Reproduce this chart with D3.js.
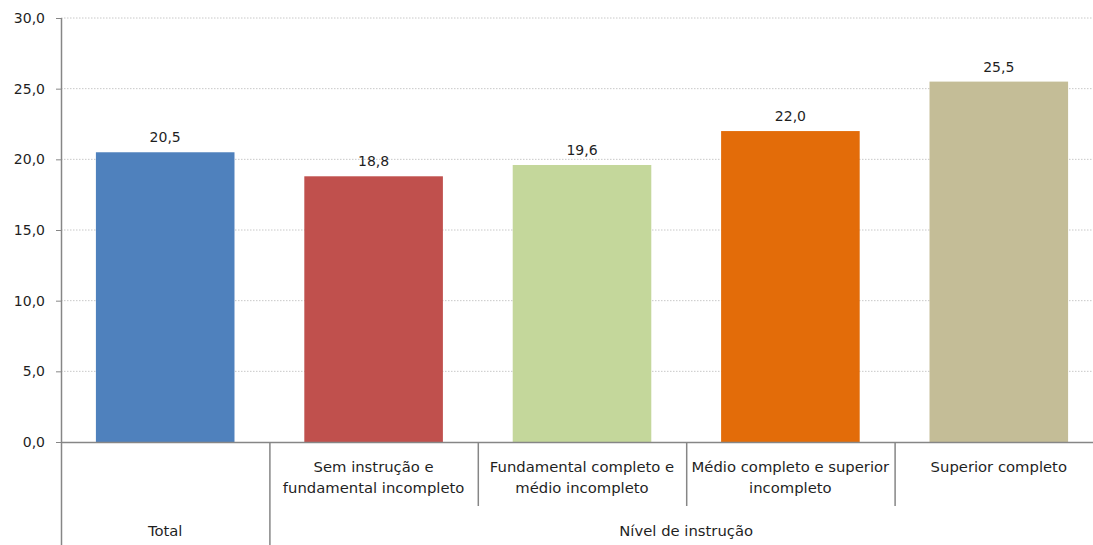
<!DOCTYPE html>
<html><head><meta charset="utf-8">
<script src="https://cdn.jsdelivr.net/npm/d3@7"></script>
<style>body{margin:0;background:#fff}svg{display:block}text{font-family:"DejaVu Sans",Verdana,sans-serif;fill:#1f1f1f}</style>
</head><body>
<svg id="c" width="1093" height="545"></svg>
<script>
const categories = ["Total","Sem instrução e|fundamental incompleto","Fundamental completo e|médio incompleto","Médio completo e superior|incompleto","Superior completo"];
const values = [20.5, 18.8, 19.6, 22.0, 25.5];
const colors = ["#4f81bd","#c0504d","#c4d79b","#e36c09","#c4bd97"];
const yTicks = [0,5,10,15,20,25,30];
const groupLabels = ["Total","Nível de instrução"];

const svg = d3.select("#c");
const x0 = 61, xEnd = 1103, yTop = 18, yBot = 442;
const x = d3.scaleBand().domain(d3.range(categories.length)).range([x0, xEnd]).paddingInner(0).paddingOuter(0);
const y = d3.scaleLinear().domain([0,30]).range([yBot, yTop]);
const fmt = v => d3.format(".1f")(v).replace(".", ",");

// gridlines
svg.append("g").selectAll("line").data(yTicks.filter(t=>t>0)).join("line")
  .attr("x1", x0).attr("x2", 1093).attr("y1", d=>y(d)).attr("y2", d=>y(d))
  .attr("stroke", "#c8c8c8").attr("stroke-dasharray", "1.5,1.5").attr("stroke-width", 1);

// y axis
const yAxis = d3.axisLeft(y).tickValues(yTicks).tickFormat(fmt).tickSize(5).tickPadding(11);
const gy = svg.append("g").attr("transform", `translate(${x0},0)`).call(yAxis);
gy.select(".domain").remove();
gy.selectAll(".tick line").attr("stroke", "#868686");
gy.selectAll(".tick text").attr("font-size", 14).attr("font-family", "DejaVu Sans").attr("fill", "#1f1f1f");
svg.append("line").attr("x1", x0+0.5).attr("x2", x0+0.5).attr("y1", yTop).attr("y2", 545).attr("stroke", "#868686").attr("stroke-width", 1.5);

// bars
const bw = x.bandwidth()*0.665;
svg.append("g").selectAll("rect").data(values).join("rect")
  .attr("x", (d,i)=>x(i)+x.bandwidth()/2-bw/2).attr("width", bw)
  .attr("y", d=>y(d)).attr("height", d=>yBot-y(d))
  .attr("fill", (d,i)=>colors[i]);

// value labels
svg.append("g").selectAll("text").data(values).join("text")
  .attr("x", (d,i)=>x(i)+x.bandwidth()/2).attr("y", d=>y(d)-10)
  .attr("text-anchor", "middle").attr("font-size", 14).text(fmt);

// x axis baseline
svg.append("line").attr("x1", x0).attr("x2", 1093).attr("y1", yBot+0.5).attr("y2", yBot+0.5).attr("stroke", "#868686").attr("stroke-width", 1.5);

// category separators
d3.range(1, categories.length).forEach(i=>{
  svg.append("line").attr("x1", x(i)+0.5).attr("x2", x(i)+0.5).attr("y1", yBot).attr("y2", i===1?545:506)
    .attr("stroke", "#868686").attr("stroke-width", 1.5);
});

// category labels
const fs = 14.8;
categories.forEach((c,i)=>{
  if(i===0) return;
  const lines = c.split("|");
  const t = svg.append("text").attr("text-anchor","middle").attr("font-size",fs)
    .attr("x", x(i)+x.bandwidth()/2);
  lines.forEach((l,k)=>t.append("tspan").attr("x", x(i)+x.bandwidth()/2).attr("y", 472+k*21).text(l));
});
// group labels
svg.append("text").attr("text-anchor","middle").attr("font-size",fs)
  .attr("x", x(0)+x.bandwidth()/2).attr("y", 536).text(groupLabels[0]);
svg.append("text").attr("text-anchor","middle").attr("font-size",fs)
  .attr("x", (x(1)+xEnd)/2).attr("y", 536).text(groupLabels[1]);
</script>
</body></html>
